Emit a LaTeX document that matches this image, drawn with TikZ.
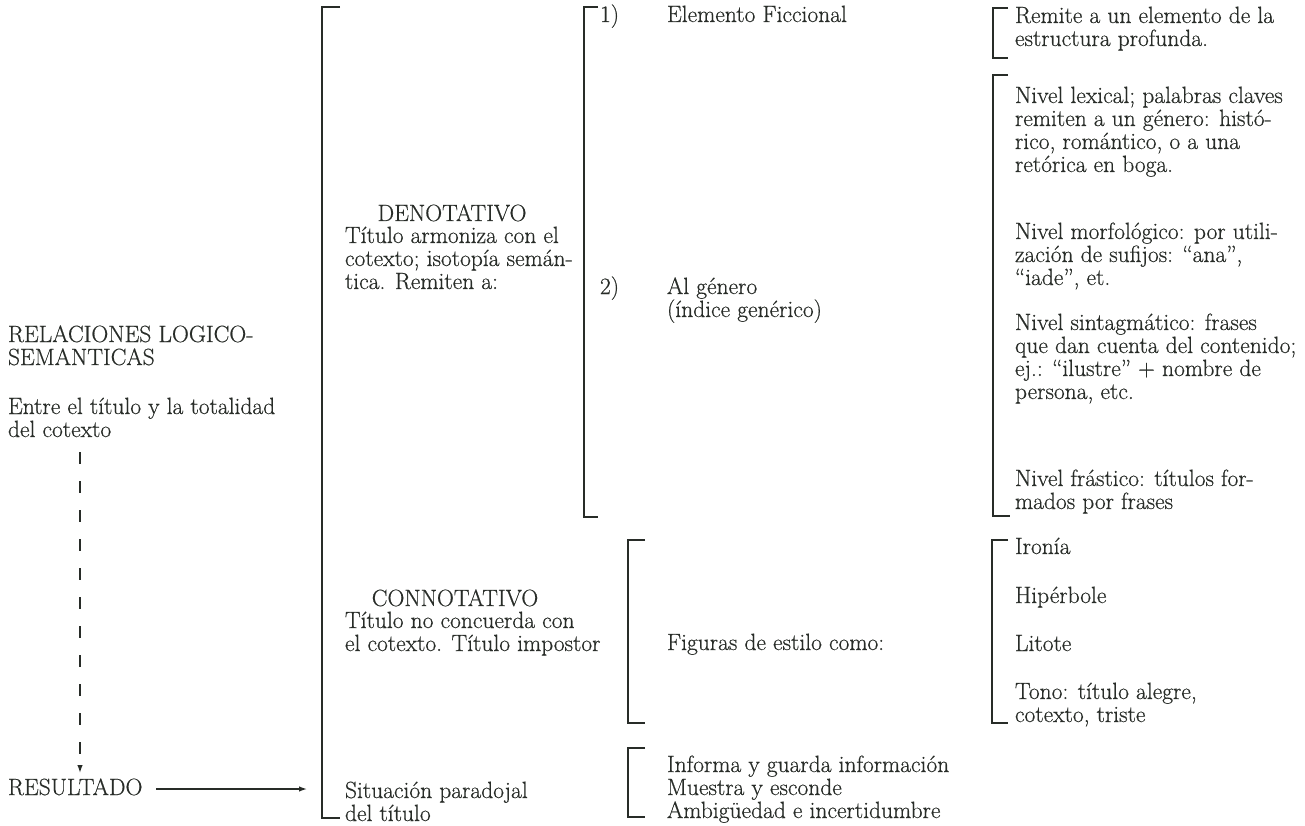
\documentclass[tikz,border=0pt]{standalone}
\usepackage{fontspec}
\setmainfont{Latin Modern Roman}[FakeBold=0.5]
\usetikzlibrary{arrows.meta}
\definecolor{ink}{RGB}{40,44,40}
\newcommand\st{\rule{0pt}{18pt}}
\tikzset{
  bl/.style={anchor=north west, inner sep=0pt, outer sep=0pt, align=left, yshift=18pt,
             font=\fontsize{23.5}{23}\selectfont, text=ink},
  blc/.style={bl, anchor=north},
  brk/.style={draw=ink, line width=1.5pt},
  conn/.style={draw=ink, line width=1.3pt, -{Latex[length=8pt,width=5.5pt]}},
}
\begin{document}
\begin{tikzpicture}[x=1pt,y=-1pt]
\useasboundingbox (0,0) rectangle (1305,826);
% left column
\node[bl] (rel) at (8,342) {\st RELACIONES LOGICO-\\SEMANTICAS};
\node[bl] (ent) at (8,414) {\st Entre el título y la totalidad\\del cotexto};
\node[bl] (res) at (8,795) {\st RESULTADO};
\coordinate (dtop) at (80,452);
\coordinate (dbot) at (80,773);
\draw[conn, dash pattern=on 12pt off 17pt] (dtop) -- (dbot);
\coordinate (rstart) at (156,789);
\coordinate (rend) at (307,789);
\draw[conn] (rstart) -- (rend);
% main bracket
\draw[brk] (340,7) -- (322,7) -- (322,818) -- (340,818);
% middle column
\node[blc] (den) at (452,221) {\st DENOTATIVO};
\node[bl] (dent) at (345,243) {\st Título armoniza con el\\cotexto; isotopía semán-\\tica. Remiten a:};
\node[blc] (con) at (455,606) {\st CONNOTATIVO};
\node[bl] (cont) at (345,628) {\st Título no concuerda con\\el cotexto. Título impostor};
\node[bl] (sit) at (345,798) {\st Situación paradojal\\del título};
% second bracket
\draw[brk] (598,7) -- (584,7) -- (584,517) -- (598,517);
\node[bl] (n1) at (600,22) {\st 1)};
\node[bl] (n2) at (600,294) {\st 2)};
\node[bl] (efi) at (667,22) {\st Elemento Ficcional};
\node[bl] (gen) at (667,294) {\st Al género\\(índice genérico)};
% connotative brackets
\draw[brk] (645,540) -- (628,540) -- (628,723) -- (645,723);
\node[bl] (fig) at (667,650) {\st Figuras de estilo como:};
\draw[brk] (645,748) -- (628,748) -- (628,817) -- (645,817);
\node[bl] (inf) at (667,772) {\st Informa y guarda información\\Muestra y esconde\\Ambigüedad e incertidumbre};
% right column
\draw[brk] (1008,8) -- (993,8) -- (993,58) -- (1008,58);
\node[bl] (rem) at (1015,23) {\st Remite a un elemento de la\\estructura profunda.};
\draw[brk] (1008,75) -- (993,75) -- (993,516) -- (1010,516);
\node[bl] (lex) at (1015,103) {\st Nivel lexical; palabras claves\\remiten a un género: histó-\\rico, romántico, o a una\\retórica en boga.};
\node[bl] (mor) at (1015,239) {\st Nivel morfológico: por utili-\\zación de sufijos: “ana”,\\“iade”, et.};
\node[bl] (sin) at (1015,330) {\st Nivel sintagmático: frases\\que dan cuenta del contenido;\\ej.: “ilustre” + nombre de\\persona, etc.};
\node[bl] (fra) at (1015,486) {\st Nivel frástico: títulos for-\\mados por frases};
\draw[brk] (1008,540) -- (992,540) -- (992,723) -- (1008,723);
\node[bl] (iro) at (1015,554) {\st Ironía};
\node[bl] (hip) at (1015,603) {\st Hipérbole};
\node[bl] (lit) at (1015,651) {\st Litote};
\node[bl] (ton) at (1015,699) {\st Tono: título alegre,\\cotexto, triste};
\end{tikzpicture}
\end{document}
